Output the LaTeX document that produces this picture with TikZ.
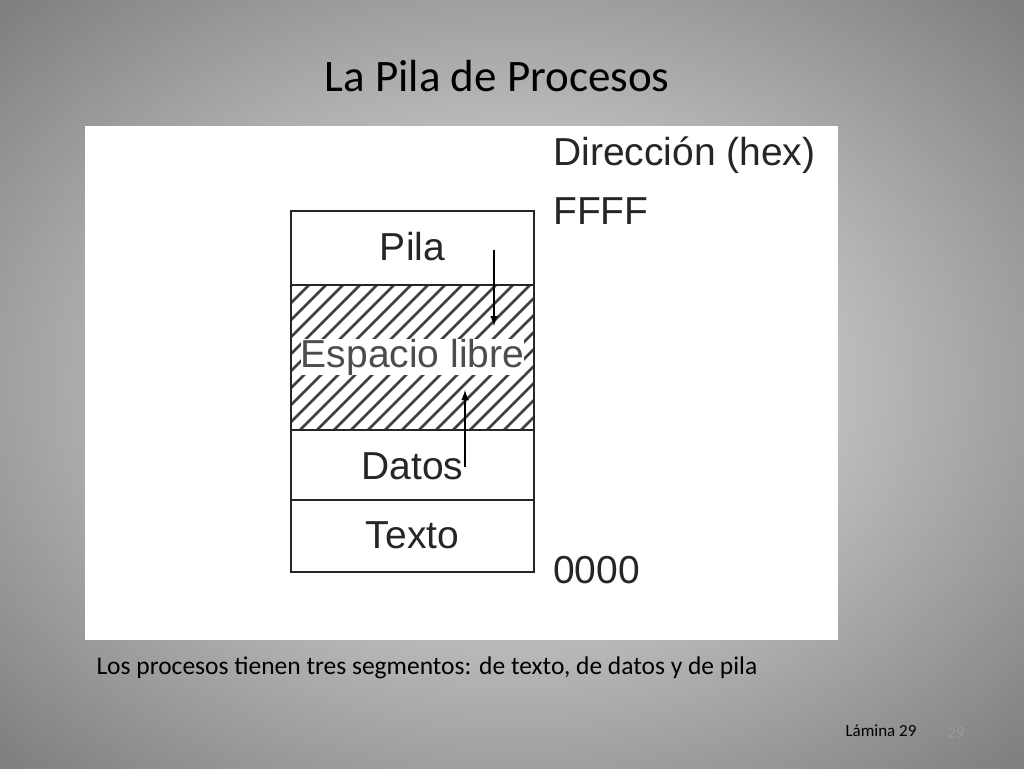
\documentclass[tikz,border=0pt]{standalone}
\usepackage{fontspec}
\setmainfont{Carlito}
\newfontfamily\arial{Liberation Sans}
\begin{document}
\begin{tikzpicture}[x=1pt,y=-1pt,
  lbl/.style={font=\arial\fontsize{39}{42}\selectfont,text=black!85,inner sep=0pt},
  seg/.style={draw=black!85,line width=2.2pt}]
\useasboundingbox (0,0) rectangle (1024,768);
\shade[inner color=white!94!black,outer color=black!50] (-200,-150) rectangle (1224,918);
\fill[white] (85,126) rectangle (838,640);
\node[font=\fontsize{45}{50}\selectfont] (title) at (497,76) {La Pila de Procesos};
% hatching
\begin{scope}
\clip (291,285) rectangle (534,430);
\foreach \i in {0,...,30}{
  \draw[line width=2.6pt,black!75] (120+\i*17,440) -- (120+\i*17+170,270);
}
\end{scope}
\node[fill=white,inner xsep=0pt,inner ysep=1pt,lbl,text=black!70] (esp) at (412.5,357) {Espacio libre};
\draw[seg] (291,211) rectangle (534,572);
\draw[seg] (291,285) -- (534,285);
\draw[seg] (291,430) -- (534,430);
\draw[seg] (291,500) -- (534,500);
\node[lbl] (pila) at (412.5,247) {Pila};
\node[lbl] (datos) at (412.5,466) {Datos};
\node[lbl] (texto) at (412.5,535) {Texto};
\coordinate (a1) at (494,250); \coordinate (a2) at (494,326);
\coordinate (b1) at (465,467); \coordinate (b2) at (465,390);
\draw[line width=2.4pt,-latex] (a1) -- (a2);
\draw[line width=2.4pt,-latex] (b1) -- (b2);
\node[lbl,anchor=west] (dir) at (553,155) {Dirección (hex)};
\node[lbl,anchor=west] (ffff) at (553,211) {FFFF};
\node[lbl,anchor=west] (zero) at (553,570) {0000};
\node[anchor=west,font=\fontsize{25.5}{30}\selectfont] (cap) at (93,668) {Los procesos tienen tres segmentos: de texto, de datos y de pila};
\node[anchor=west,font=\fontsize{17}{20}\selectfont] (lam) at (842,731) {Lámina 29};
\node[anchor=west,font=\fontsize{17}{20}\selectfont,text=black!40] (num) at (944,733) {29};
\end{tikzpicture}
\end{document}
